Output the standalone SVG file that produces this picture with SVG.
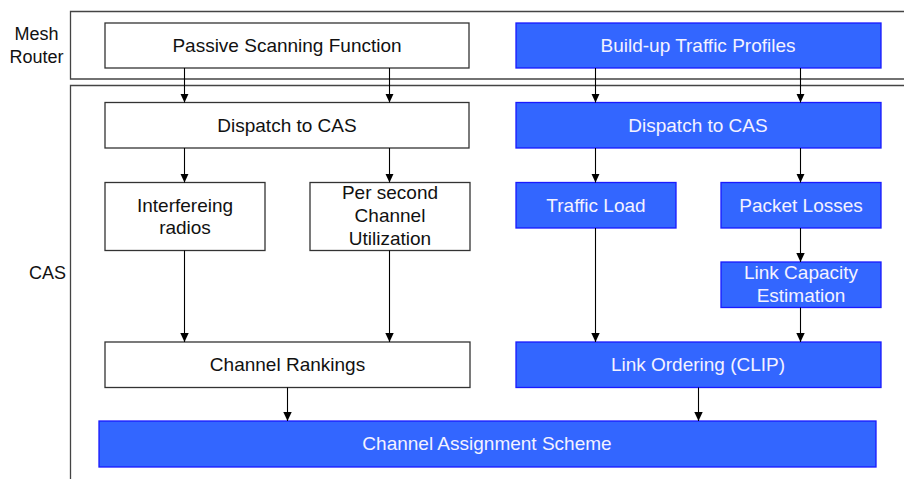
<svg xmlns="http://www.w3.org/2000/svg" width="904" height="479" viewBox="0 0 904 479">
<defs>
<marker id="ah" markerWidth="10" markerHeight="10" refX="9" refY="5" orient="auto" markerUnits="userSpaceOnUse">
<path d="M0,0.8 L9,5 L0,9.2 Z" fill="#000"/>
</marker>
<style>
text{font-family:"Liberation Sans",Arial,sans-serif;font-size:19px;text-anchor:middle}
.w rect{fill:#fff;stroke:#333;stroke-width:1.3}
.b rect{fill:#3366FF;stroke:#1a1aff;stroke-width:1.3}
.w text{fill:#111}
.b text{fill:#f4f2ff}
.frame{fill:none;stroke:#444;stroke-width:1.3}
.lbl{fill:#111;font-size:18px}
#connectors line{stroke:#000;stroke-width:1.1;marker-end:url(#ah)}
</style>
</defs>
<rect width="904" height="479" fill="#fff"/>
<g id="frames">
<path class="frame" d="M906,11.5 H70.5 V79 H906"/>
<path class="frame" d="M906,85.5 H70.5 V481"/>
<text class="lbl" x="36.5" y="40">Mesh</text>
<text class="lbl" x="36.5" y="63">Router</text>
<text class="lbl" x="66" y="278.5" style="text-anchor:end">CAS</text>
</g>
<g id="passive" class="w"><rect x="105" y="23" width="364" height="45"/><text x="287" y="52">Passive Scanning Function</text></g>
<g id="buildup" class="b"><rect x="516" y="23" width="365" height="45"/><text x="698" y="52">Build-up Traffic Profiles</text></g>
<g id="dispatchL" class="w"><rect x="105" y="102.5" width="364" height="45.5"/><text x="287" y="131.5">Dispatch to CAS</text></g>
<g id="dispatchR" class="b"><rect x="516" y="102.5" width="365" height="45.5"/><text x="698" y="131.5">Dispatch to CAS</text></g>
<g id="interf" class="w"><rect x="105" y="182.5" width="160" height="68"/><text x="185" y="211.5">Interfereing</text><text x="185" y="234">radios</text></g>
<g id="persec" class="w"><rect x="310" y="182.5" width="160" height="68"/><text x="390" y="199">Per second</text><text x="390" y="222">Channel</text><text x="390" y="245">Utilization</text></g>
<g id="traffic" class="b"><rect x="516" y="182.5" width="160" height="45.5"/><text x="596" y="211.5">Traffic Load</text></g>
<g id="packet" class="b"><rect x="721" y="182.5" width="160" height="45.5"/><text x="801" y="211.5">Packet Losses</text></g>
<g id="linkcap" class="b"><rect x="721" y="262" width="160" height="45.5"/><text x="801" y="278.5">Link Capacity</text><text x="801" y="301.5">Estimation</text></g>
<g id="rankings" class="w"><rect x="105" y="342" width="365" height="45.5"/><text x="287.5" y="371">Channel Rankings</text></g>
<g id="ordering" class="b"><rect x="516" y="342" width="365" height="45.5"/><text x="698" y="371">Link Ordering (CLIP)</text></g>
<g id="cas" class="b"><rect x="99" y="421" width="777" height="46"/><text x="487" y="450">Channel Assignment Scheme</text></g>
<g id="connectors">
<line x1="184.5" y1="68" x2="184.5" y2="102.5"/>
<line x1="389.5" y1="68" x2="389.5" y2="102.5"/>
<line x1="595.5" y1="68" x2="595.5" y2="102.5"/>
<line x1="800.5" y1="68" x2="800.5" y2="102.5"/>
<line x1="184.5" y1="148" x2="184.5" y2="182.5"/>
<line x1="389.5" y1="148" x2="389.5" y2="182.5"/>
<line x1="595.5" y1="148" x2="595.5" y2="182.5"/>
<line x1="800.5" y1="148" x2="800.5" y2="182.5"/>
<line x1="184.5" y1="250.5" x2="184.5" y2="342"/>
<line x1="389.5" y1="250.5" x2="389.5" y2="342"/>
<line x1="595.5" y1="228" x2="595.5" y2="342"/>
<line x1="800.5" y1="228" x2="800.5" y2="262"/>
<line x1="800.5" y1="307.5" x2="800.5" y2="342"/>
<line x1="287.5" y1="387.5" x2="287.5" y2="421"/>
<line x1="698.5" y1="387.5" x2="698.5" y2="421"/>
</g>
</svg>
